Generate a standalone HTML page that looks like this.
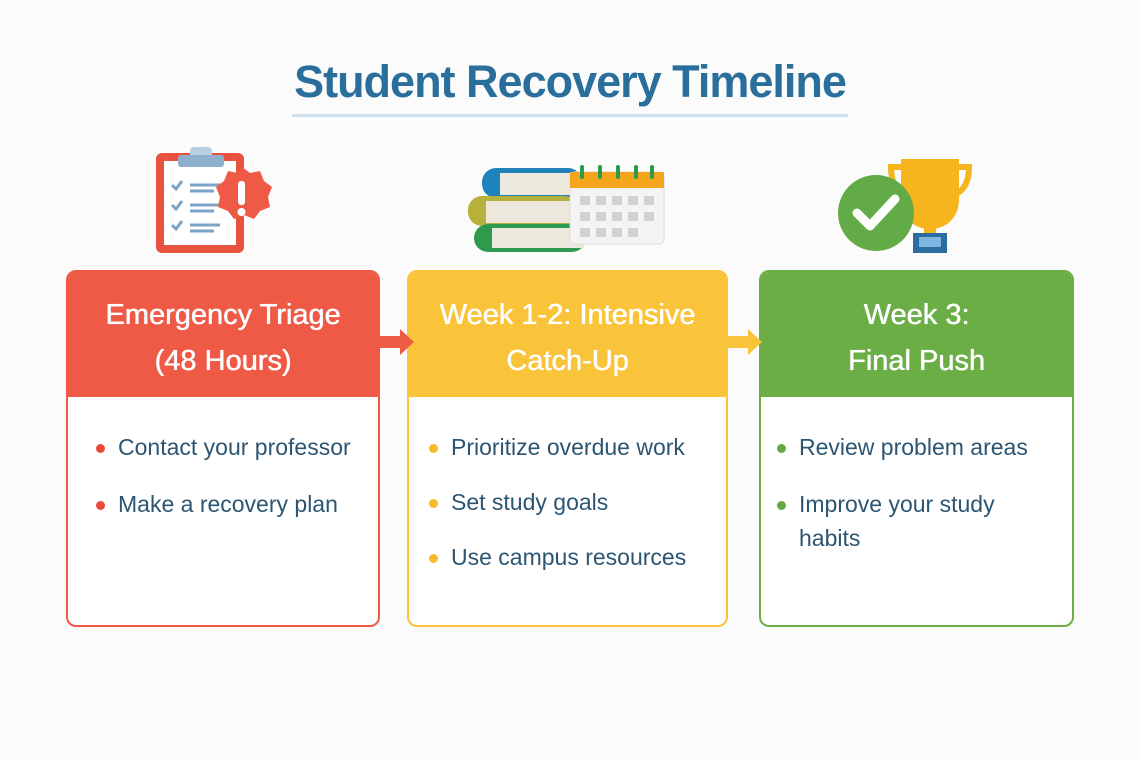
<!DOCTYPE html>
<html><head><meta charset="utf-8"><style>
*{margin:0;padding:0;box-sizing:border-box}
body{width:1140px;height:760px;background:#fbfbfb;font-family:"Liberation Sans",sans-serif;position:relative;overflow:hidden}
.t{position:absolute;left:0;width:1140px;top:56px;text-align:center;font-size:45px;font-weight:bold;color:#2a6f9b;letter-spacing:-1px}
.ul{position:absolute;left:292px;top:114px;width:556px;height:3px;background:#cfe0ee}
.box{position:absolute;top:270px;height:357px;border:2px solid;border-radius:10px;background:#fff;overflow:hidden}
.hd{height:125px;color:#fff;font-size:29px;text-align:center;line-height:46px;padding-top:20px;text-shadow:0 0 0.6px #fff,0.4px 0 0 #fff}
.li{position:absolute;left:28px;font-size:23px;color:#2c5572;line-height:34px}
.li:before{content:"";position:absolute;left:-22px;top:14px;width:9px;height:9px;border-radius:50%;background:var(--c)}
.ar{position:absolute;top:327px}
</style></head><body>
<div class="t">Student Recovery Timeline</div>
<div class="ul"></div>

<div class="box" style="left:66px;width:314px;border-color:#ef5a47;--c:#e8473a">
<div class="hd" style="background:#ef5a47">Emergency Triage<br>(48 Hours)</div>
<div class="li" style="top:158px;left:50px">Contact your professor</div>
<div class="li" style="top:215px;left:50px">Make a recovery plan</div>
</div>
<div class="box" style="left:407px;width:321px;border-color:#f9c43a;--c:#f6bb2c">
<div class="hd" style="background:#f9c43a">Week 1-2: Intensive<br>Catch-Up</div>
<div class="li" style="top:158px;left:42px">Prioritize overdue work</div>
<div class="li" style="top:213px;left:42px">Set study goals</div>
<div class="li" style="top:268px;left:42px">Use campus resources</div>
</div>
<div class="box" style="left:759px;width:315px;border-color:#6aae45;--c:#66a944">
<div class="hd" style="background:#6aae45">Week 3:<br>Final Push</div>
<div class="li" style="top:158px;left:38px">Review problem areas</div>
<div class="li" style="top:215px;left:38px;width:250px">Improve your study habits</div>
</div>

<svg class="ar" style="left:378px" width="40" height="30"><path d="M0 9H22V2L36 15L22 28V21H0Z" fill="#ef5a47"/></svg>
<svg class="ar" style="left:726px" width="40" height="30"><path d="M0 9H22V2L36 15L22 28V21H0Z" fill="#f9c43a"/></svg>

<svg style="position:absolute;left:150px;top:145px" width="125" height="110">
<rect x="6" y="8" width="88" height="100" rx="6" fill="#e8533f"/>
<rect x="14" y="16" width="72" height="84" fill="#fff"/>
<rect x="40" y="2" width="22" height="16" rx="4" fill="#b8cfe2"/>
<rect x="28" y="10" width="46" height="12" rx="3" fill="#8fb0cc"/>
<g stroke="#7ba3c5" stroke-width="3" fill="none"><path d="M22 40l4 4 6-8M22 60l4 4 6-8M22 80l4 4 6-8"/><path d="M40 40h30M40 46h24M40 60h30M40 66h24M40 80h30M40 86h24"/></g>
<path d="M92 22l8 6 10-2 4 10 8 6-4 10 2 10-10 4-6 8-10-4-10 4-6-8-10-4 2-10-4-10 8-6 4-10 10 2z" fill="#ef5a47"/>
<rect x="88" y="36" width="7" height="24" rx="3" fill="#fff"/><circle cx="91.5" cy="67" r="4" fill="#fff"/>
</svg>
<svg style="position:absolute;left:462px;top:160px" width="210" height="95">
<rect x="20" y="8" width="100" height="30" rx="14" fill="#1e82bd"/><rect x="38" y="13" width="80" height="22" fill="#ece8dc"/>
<rect x="6" y="36" width="110" height="30" rx="14" fill="#b6b13a"/><rect x="24" y="41" width="90" height="22" fill="#ece8dc"/>
<rect x="12" y="64" width="112" height="28" rx="14" fill="#2e9a4e"/><rect x="30" y="68" width="92" height="20" fill="#ece8dc"/>
<rect x="108" y="12" width="94" height="72" rx="4" fill="#f4f4f4" stroke="#ddd"/>
<rect x="108" y="12" width="94" height="16" fill="#f4a51c"/>
<g fill="#d2d2d2"><rect x="118" y="36" width="10" height="9"/><rect x="134" y="36" width="10" height="9"/><rect x="150" y="36" width="10" height="9"/><rect x="166" y="36" width="10" height="9"/><rect x="182" y="36" width="10" height="9"/><rect x="118" y="52" width="10" height="9"/><rect x="134" y="52" width="10" height="9"/><rect x="150" y="52" width="10" height="9"/><rect x="166" y="52" width="10" height="9"/><rect x="182" y="52" width="10" height="9"/><rect x="118" y="68" width="10" height="9"/><rect x="134" y="68" width="10" height="9"/><rect x="150" y="68" width="10" height="9"/><rect x="166" y="68" width="10" height="9"/></g>
<g fill="#2e9a4e"><rect x="118" y="5" width="4" height="14" rx="2"/><rect x="136" y="5" width="4" height="14" rx="2"/><rect x="154" y="5" width="4" height="14" rx="2"/><rect x="172" y="5" width="4" height="14" rx="2"/><rect x="188" y="5" width="4" height="14" rx="2"/></g>
</svg>
<svg style="position:absolute;left:835px;top:155px" width="140" height="100">
<path d="M66 4h58v40c0 18-12 30-29 30s-29-12-29-30z" fill="#f6b51c"/>
<path d="M66 12H56c0 18 8 26 16 28M124 12h10c0 18-8 26-16 28" stroke="#f6b51c" stroke-width="6" fill="none"/>
<rect x="89" y="70" width="12" height="12" fill="#f6b51c"/>
<rect x="78" y="78" width="34" height="20" fill="#2b6d9e"/><rect x="84" y="82" width="22" height="10" fill="#7fb6df"/>
<circle cx="41" cy="58" r="38" fill="#62ab46"/>
<path d="M22 58l13 13 25-27" stroke="#fff" stroke-width="9" fill="none" stroke-linecap="round" stroke-linejoin="round"/>
</svg>
</body></html>
